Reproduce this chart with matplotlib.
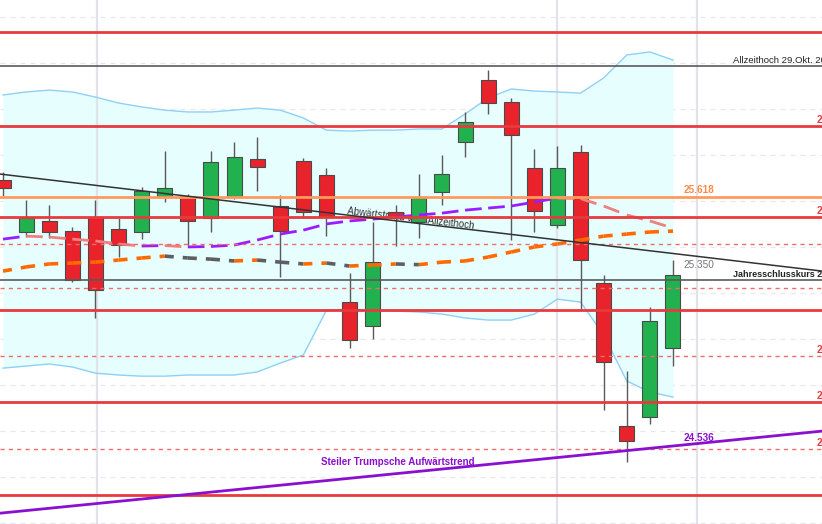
import numpy as np
import matplotlib
matplotlib.use("Agg")
import matplotlib.pyplot as plt

# ── data (Nasdaq-100 Tageskerzen) ────────────────────────────────────────────
OPEN  = [25692, 25466, 25514, 25470, 25531, 25479, 25466, 25623, 25623, 25527,
         25623, 25783, 25579, 25775, 25714, 25161, 25057, 25553, 25509, 25640,
         25857, 26127, 26031, 25744, 25496, 25814, 25244, 24622, 24661, 24961]
HIGH  = [25727, 25605, 25583, 25488, 25605, 25527, 25662, 25818, 25631, 25818,
         25857, 25879, 25627, 25788, 25744, 25288, 25509, 25583, 25718, 25801,
         25988, 26171, 26049, 25827, 25840, 25844, 25279, 24861, 25140, 25344]
LOW   = [25623, 25444, 25440, 25248, 25092, 25357, 25435, 25596, 25409, 25466,
         25609, 25644, 25270, 25527, 25449, 24961, 25000, 25405, 25440, 25583,
         25792, 25979, 25431, 25466, 25483, 25127, 24692, 24465, 24631, 24883]
CLOSE = [25657, 25527, 25466, 25257, 25214, 25409, 25644, 25657, 25514, 25770,
         25792, 25749, 25470, 25553, 25536, 24996, 25335, 25527, 25614, 25718,
         25944, 26027, 25888, 25557, 25744, 25344, 24900, 24557, 25079, 25279]

MA_SLOW = [25435, 25448, 25444, 25435, 25427, 25414, 25405, 25407, 25401, 25403,
           25409, 25431, 25457, 25474, 25501, 25514, 25522, 25531, 25540, 25548,
           25561, 25570, 25579, 25596, 25614, 25611, 25579, 25540, 25514, 25483]
MA_LONG = [25296, 25314, 25327, 25331, 25335, 25344, 25353, 25361, 25353, 25348,
           25340, 25344, 25335, 25327, 25331, 25318, 25322, 25327, 25324, 25335,
           25340, 25357, 25379, 25401, 25414, 25431, 25448, 25457, 25466, 25470]
BB_UP  = [26062, 26075, 26083, 26075, 26053, 26027, 26010, 25996, 25988, 25988,
          25996, 26005, 25996, 25962, 25909, 25905, 25909, 25909, 25914, 25914,
          25979, 26049, 26088, 26079, 26075, 26070, 26136, 26236, 26249, 26214]
BB_LOW = [24874, 24883, 24892, 24879, 24852, 24844, 24839, 24839, 24844, 24844,
          24844, 24857, 24896, 24931, 25126, 25131, 25126, 25122, 25118, 25109,
          25092, 25083, 25083, 25109, 25174, 25161, 25018, 24818, 24770, 24748]

RED_SOLID  = [26336, 25927, 25531, 25126, 24726, 24322]
RED_DASHED = [25414, 25222, 24926, 24522]
RED_LABELS = [25927, 25531, 24926, 24726, 24522]
ATH        = 26188
YEAR_CLOSE = 25257
ORANGE_LVL = 25618
LAST_HIGH  = 25350
TRUMP_LVL  = 24536

TREND_DOWN = [(-0.13, 25718), (35.45, 25296)]
TREND_UP   = [(-0.13, 24243), (35.45, 24600)]
VGRID      = [4.07, 23.98, 30.04]
HGRID      = np.arange(24200, 26500, 200)

XLIM = (-0.13, 35.45)
YLIM = (24196, 26475)

RED, GREEN = "#e8232b", "#21b24f"
FONT = "Liberation Sans"


def seg_plot(ax, x, y, up_col, dn_col, **kw):
    for i in range(len(x) - 1):
        c = up_col if y[i + 1] >= y[i] else dn_col
        ax.plot(x[i:i + 2], y[i:i + 2], color=c, **kw)


fig = plt.figure(figsize=(8.22, 5.24), dpi=100)
ax = fig.add_axes([0, 0, 1, 1])
ax.set_xlim(*XLIM); ax.set_ylim(*YLIM)
ax.axis("off")

x = np.arange(len(OPEN))

# grid
for g in HGRID:
    ax.axhline(g, color="#e8e8ec", lw=0.9, ls=(0, (4, 4)), zorder=0)
for v in VGRID:
    ax.axvline(v, color="#e2e2ea", lw=1.6, zorder=0.5)

# Bollinger
ax.fill_between(x, BB_LOW, BB_UP, color="#e6fefe", lw=0, zorder=0.2)
ax.plot(x, BB_UP, color="#8fd0f5", lw=1, zorder=1)
ax.plot(x, BB_LOW, color="#8fd0f5", lw=1, zorder=1)

# moving averages
seg_plot(ax, x, MA_SLOW, "#9b1cff", "#f07f80", lw=2, ls=(0, (6, 5)), zorder=4)
seg_plot(ax, x, MA_LONG, "#ff6a00", "#5f5f5f", lw=2.6, ls=(0, (2.5, 2.5)), zorder=4)

# candles
w = 0.65
for i in x:
    o, h, l, c = OPEN[i], HIGH[i], LOW[i], CLOSE[i]
    col = GREEN if c >= o else RED
    ax.vlines(i, l, h, color="#5a5a5a", lw=1, zorder=2.8)
    ax.bar(i, abs(c - o), bottom=min(o, c), width=w, color=col,
           edgecolor="#4a4a4a", lw=0.8, zorder=3)

# horizontal levels
for lv in RED_SOLID:
    ax.axhline(lv, color="#e83a3e", lw=2, zorder=5)
for lv in RED_DASHED:
    ax.axhline(lv, color="#f26a6a", lw=1, ls=(0, (3, 3)), zorder=5)
ax.axhline(ATH, color="#5a5a5a", lw=1.2, zorder=5)
ax.axhline(YEAR_CLOSE, color="#5a5a5a", lw=1.2, zorder=5)
ax.axhline(ORANGE_LVL, color="#ff9a5c", lw=2, zorder=5)

# trend lines
(x0, y0), (x1, y1) = TREND_DOWN
ax.plot([x0, x1], [y0, y1], color="#333333", lw=1.1, zorder=6)
(x0, y0), (x1, y1) = TREND_UP
ax.plot([x0, x1], [y0, y1], color="#8a0fcf", lw=2, zorder=6)

# texts
ax.text(17.66, 25527, "Abwärtstrend vom Allzeithoch", rotation=-6.7, ha="center",
        va="center", fontsize=7, color="#333333", family=FONT, zorder=2.5)
ax.text(13.77, 24465, "Steiler Trumpsche Aufwärtstrend", ha="left", va="center",
        fontsize=7, fontweight="bold", color="#8a0fcf", family=FONT, zorder=7)
ax.text(29.44, 24570, f"{TRUMP_LVL/1000:.3f}", ha="left", va="center",
        fontsize=7.2, fontweight="bold", color="#8a0fcf", family=FONT, zorder=7)
ax.text(29.44, 25648, f"{ORANGE_LVL/1000:.3f}", ha="left", va="center",
        fontsize=7.2, fontweight="bold", color="#ff8a48", family=FONT, zorder=7)
ax.text(29.44, 25322, f"{LAST_HIGH/1000:.3f}", ha="left", va="center",
        fontsize=7.2, color="#777777", family=FONT, zorder=7)
ax.text(31.6, 26214, "Allzeithoch 29.Okt. 2025", ha="left", va="center",
        fontsize=6.8, color="#222222", family=FONT, zorder=7)
ax.text(31.6, 25283, "Jahresschlusskurs 2025", ha="left", va="center",
        fontsize=6.5, fontweight="bold", color="#222222", family=FONT, zorder=7)
for lv in RED_LABELS:
    ax.text(35.22, lv + 25, f"{lv/1000:.3f}", ha="left", va="center",
            fontsize=7.2, fontweight="bold", color="#e83a3e", family=FONT, zorder=7)

fig.savefig("out.png", dpi=100)
